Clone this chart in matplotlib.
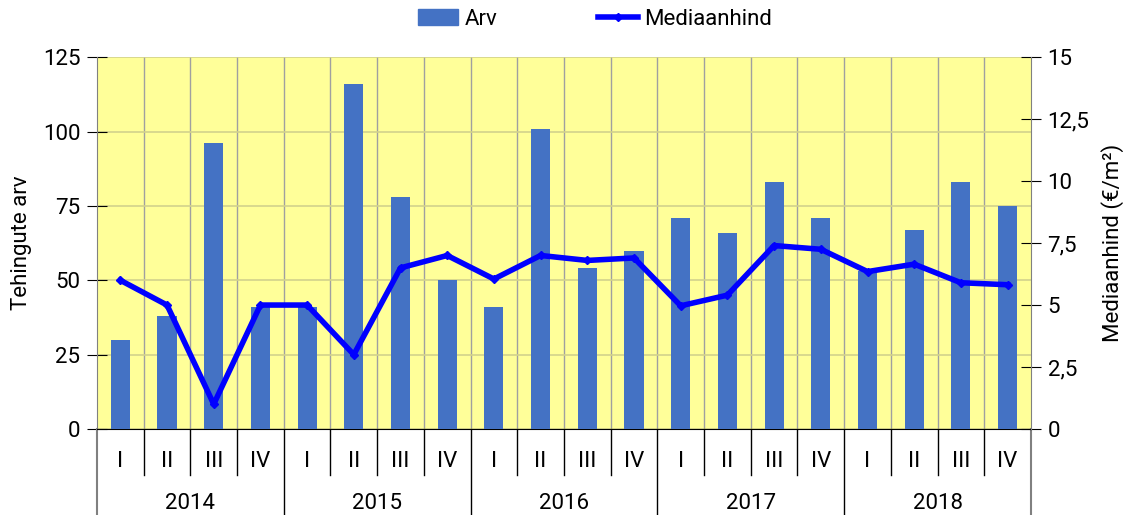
import matplotlib
matplotlib.use('Agg')
import matplotlib.pyplot as plt
import numpy as np
from matplotlib.patches import Patch
from matplotlib.lines import Line2D
from matplotlib.ticker import FuncFormatter

plt.rcParams['font.family'] = ['Roboto', 'DejaVu Sans']

# data
years = ['2014', '2015', '2016', '2017', '2018']
quarters = ['I', 'II', 'III', 'IV']
arv = [30, 38, 96, 41,
       41, 116, 78, 50,
       41, 101, 54, 60,
       71, 66, 83, 71,
       53, 67, 83, 75]
mediaanhind = [6.0, 5.0, 1.0, 5.0,
               5.0, 3.0, 6.5, 7.0,
               6.05, 7.0, 6.8, 6.9,
               4.97, 5.4, 7.4, 7.25,
               6.35, 6.65, 5.9, 5.82]

x = np.arange(len(arv))
bar_col = '#4472C4'
line_col = '#0000FF'
fs = 16

fig = plt.figure(figsize=(11.25, 5.15), dpi=100)
ax = fig.add_axes([0.0862, 0.167, 0.8302, 0.722])
ax.set_facecolor('#FFFF99')

ax.bar(x, arv, width=0.41, color=bar_col, zorder=3)
ax.set_xlim(-0.5, len(arv) - 0.5)
ax.set_ylim(0, 125)
ax.set_yticks(np.arange(0, 126, 25))
ax.yaxis.grid(True, color='#D2D28C', lw=1.2, zorder=1)
for b in np.arange(0.5, len(arv) - 0.5, 1):
    ax.axvline(b, color='#A0A0A0', lw=1, zorder=1)

ax.set_xticks([])
for s in ['top', 'right']:
    ax.spines[s].set_visible(False)
ax.spines['left'].set_color('#808080')
ax.spines['bottom'].set_color('black')
ax.tick_params(axis='y', direction='inout', length=14, labelsize=fs, pad=5)
ax.set_ylabel('Tehingute arv', fontsize=fs, labelpad=8)

ax2 = ax.twinx()
ax2.plot(x, mediaanhind, color=line_col, lw=4, marker='D', ms=4, zorder=4)
ax2.set_ylim(0, 15)
ax2.set_yticks(np.arange(0, 15.1, 2.5))
ax2.yaxis.set_major_formatter(FuncFormatter(lambda v, p: ('%g' % v).replace('.', ',')))
for s in ['top', 'left', 'bottom']:
    ax2.spines[s].set_visible(False)
ax2.spines['right'].set_color('#808080')
ax2.tick_params(axis='y', direction='inout', length=14, labelsize=fs, pad=5)
ax2.set_ylabel('Mediaanhind (€/m²)', fontsize=fs, labelpad=8)

# two level category axis
tr = ax.get_xaxis_transform()
for i in x:
    ax.text(i, -0.088, quarters[i % 4], transform=tr, ha='center', va='center', fontsize=fs)
for b in np.arange(0.5, len(arv) - 0.5, 1):
    if (b + 0.5) % 4 == 0:
        ax.plot([b, b], [0, -0.235], transform=tr, color='black', lw=1, clip_on=False)
    else:
        ax.plot([b, b], [0, -0.124], transform=tr, color='black', lw=1, clip_on=False)
for e in [-0.5, len(arv) - 0.5]:
    ax.plot([e, e], [0, -0.235], transform=tr, color='#808080', lw=1.5, clip_on=False)
for j, yr in enumerate(years):
    ax.text(j * 4 + 1.5, -0.2, yr, transform=tr, ha='center', va='center', fontsize=fs)

handles = [Patch(color=bar_col),
           Line2D([0], [0], color=line_col, lw=4, marker='D', ms=4)]
fig.legend(handles, ['Arv', 'Mediaanhind'], loc='center', bbox_to_anchor=(0.529, 0.963),
           ncol=2, frameon=False, fontsize=fs, columnspacing=4.5, handlelength=1.8,
           handletextpad=0.3)

fig.savefig('out.png', dpi=100)
